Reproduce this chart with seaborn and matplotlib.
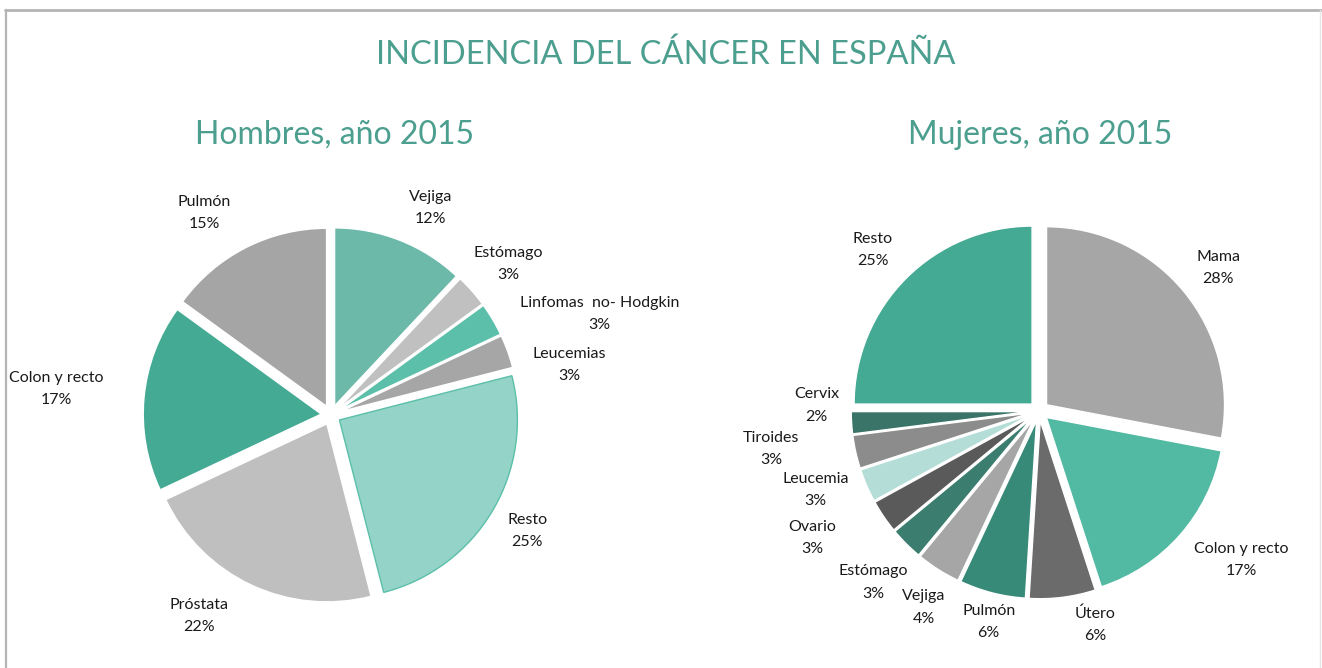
import numpy as np
import matplotlib
matplotlib.use("Agg")
import matplotlib.pyplot as plt
import seaborn as sns
from matplotlib.lines import Line2D

sns.set_theme(style="white")
plt.rcParams['font.family'] = ['Lato', 'DejaVu Sans']

# ---- data ----
title = "INCIDENCIA DEL CÁNCER EN ESPAÑA"
men_title = "Hombres, año 2015"
women_title = "Mujeres, año 2015"

men_labels = ["Vejiga", "Estómago", "Linfomas  no- Hodgkin", "Leucemias",
              "Resto", "Próstata", "Colon y recto", "Pulmón"]
men_values = [12, 3, 3, 3, 25, 22, 17, 15]

women_labels = ["Mama", "Colon y recto", "Útero", "Pulmón", "Vejiga", "Estómago",
                "Ovario", "Leucemia", "Tiroides", "Cervix", "Resto"]
women_values = [28, 17, 6, 6, 4, 3, 3, 3, 3, 2, 25]

# ---- styles ----
men_colors = ["#6CB9AA", "#C0C0C0", "#5BBFAA", "#A6A6A6",
              "#94D3C7", "#BFBFBF", "#44AA94", "#A5A5A5"]
men_edges = ["white"] * 4 + ["#5BBFA9"] + ["white"] * 3
women_colors = ["#A6A6A6", "#52B9A3", "#6B6B6B", "#388A78", "#A6A6A6", "#3B7D6F",
                "#5A5A5A", "#B3DDD6", "#8C8C8C", "#3A7367", "#45AA94"]

men_label_r = [1.29, 1.31, 1.61, 1.37, 1.28, 1.35, 1.55, 1.34]
men_label_dt = [-4, -1, -10, -8, 0, -8, 0, 5]
women_label_r = [1.29, 1.41, 1.24, 1.22, 1.28, 1.34, 1.46, 1.33, 1.52, 1.25, 1.30]
women_label_dt = [-1, 5, 7.5, 1, 2, 1, -5, -4, -4.5, -5, 1]

TEAL = "#4C9F8F"
W, H = 1322, 668
fig = plt.figure(figsize=(W / 100, H / 100), dpi=100)
fig.patch.set_facecolor("white")

# frame lines (top, left darker; right faint)
fig.add_artist(Line2D([5 / W, 1 / 1], [1 - 10 / H, 1 - 10 / H],
                      transform=fig.transFigure, color="#B4B4B4", linewidth=2))
fig.add_artist(Line2D([5.5 / W, 5.5 / W], [0, 1 - 10 / H],
                      transform=fig.transFigure, color="#B4B4B4", linewidth=1.6))
fig.add_artist(Line2D([1319.5 / W, 1319.5 / W], [0, 1 - 10 / H],
                      transform=fig.transFigure, color="#E6E6E6", linewidth=1))

fig.text(666 / W, 1 - 55 / H, title, ha="center", va="center",
         fontsize=23.5, color=TEAL)
fig.text(335 / W, 1 - 135 / H, men_title, ha="center", va="center",
         fontsize=23, color=TEAL)
fig.text(1040 / W, 1 - 135 / H, women_title, ha="center", va="center",
         fontsize=23, color=TEAL)


def draw_pie(cx, cy, R, left, right, top, values, labels, colors, edges,
             lab_r, lab_dt, explode_frac, lw):
    bottom = H
    ax = fig.add_axes([left / W, 0, (right - left) / W, (bottom - top) / H])
    ax.pie(values, colors=colors, startangle=90, counterclock=False,
           explode=[explode_frac] * len(values),
           wedgeprops=dict(linewidth=lw))
    wedges = ax.patches
    for w, ec in zip(wedges, edges):
        w.set_edgecolor(ec)
    ax.set_xlim(-(cx - left) / R, (right - cx) / R)
    ax.set_ylim(-(bottom - cy) / R, (cy - top) / R)
    ax.set_aspect("auto")
    ax.axis("off")
    total = sum(values)
    for w, lab, v, r, dt in zip(wedges, labels, values, lab_r, lab_dt):
        mid = np.deg2rad((w.theta1 + w.theta2) / 2 + dt)
        ax.text(r * np.cos(mid), r * np.sin(mid),
                f"{lab}\n{round(100 * v / total)}%",
                ha="center", va="center", fontsize=11.5, color="#1A1A1A",
                linespacing=1.75)
    return ax


draw_pie(331, 415, 178, 0, 661, 150, men_values, men_labels, men_colors,
         men_edges, men_label_r, men_label_dt, 0.055, 1.0)
draw_pie(1039, 411, 178, 661, 1322, 150, women_values, women_labels,
         women_colors, ["white"] * len(women_values), women_label_r,
         women_label_dt, 0.055, 1.0)

fig.savefig("out.png", dpi=100, facecolor="white")
